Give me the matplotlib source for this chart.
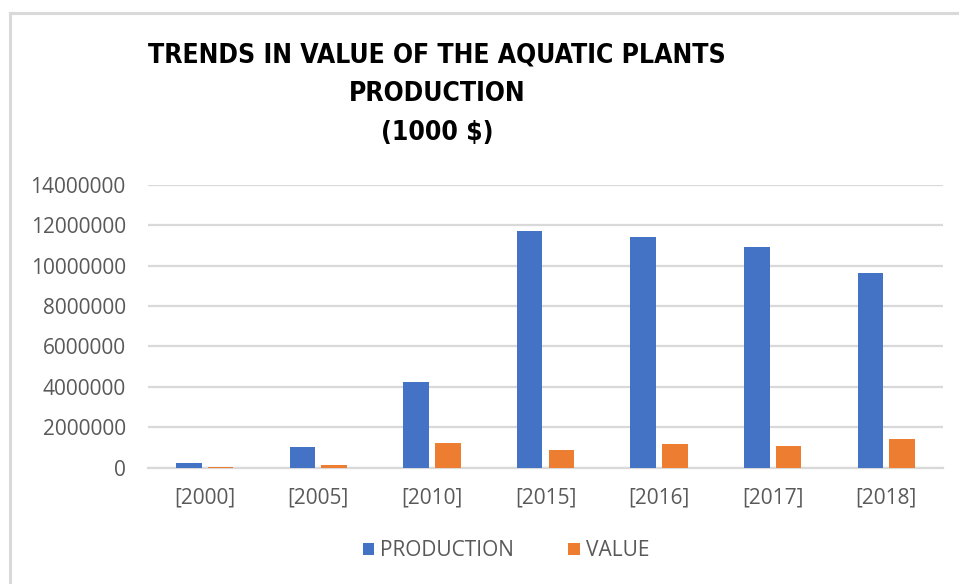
import matplotlib
matplotlib.use("Agg")
import matplotlib.pyplot as plt
import numpy as np
from matplotlib.lines import Line2D

# Data
years = ["[2000]", "[2005]", "[2010]", "[2015]", "[2016]", "[2017]", "[2018]"]
production = [220000, 1000000, 4240000, 11730000, 11420000, 10910000, 9620000]
value = [15000, 120000, 1240000, 875000, 1170000, 1060000, 1410000]
yticks = [0, 2000000, 4000000, 6000000, 8000000, 10000000, 12000000, 14000000]

BLUE = "#4472C4"
ORANGE = "#ED7D31"
GRID = "#D9D9D9"
TXT = "#595959"

W, H = 959, 584
fig = plt.figure(figsize=(W / 100, H / 100), dpi=100)
fig.patch.set_facecolor("white")

# chart frame (top and left edges visible)
fig.add_artist(Line2D([10 / W, 1.0], [1 - 13 / H, 1 - 13 / H], color="#D9D9D9", lw=2.2,
                      transform=fig.transFigure))
fig.add_artist(Line2D([10 / W, 10 / W], [0.0, 1 - 13 / H], color="#D9D9D9", lw=2.2,
                      transform=fig.transFigure))

ax_l, ax_r = 148 / W, 943 / W
ax_b, ax_t = 1 - 467.7 / H, 1 - 184.7 / H
ax = fig.add_axes([ax_l, ax_b, ax_r - ax_l, ax_t - ax_b])

x = np.arange(len(years))
bw = 0.225
off = 0.14
ax.bar(x - off, production, width=bw, color=BLUE, label="PRODUCTION", zorder=3)
ax.bar(x + off, value, width=bw, color=ORANGE, label="VALUE", zorder=3)

ax.set_xlim(-0.5, len(years) - 0.5)
ax.set_ylim(0, 14000000)
ax.set_yticks(yticks)
ax.set_yticklabels([str(v) for v in yticks])
ax.set_xticks(x)
ax.set_xticklabels(years)

ax.yaxis.grid(True, color=GRID, lw=1.6, zorder=0)
ax.set_axisbelow(True)
for s in ["top", "right", "left"]:
    ax.spines[s].set_visible(False)
ax.spines["bottom"].set_color(GRID)
ax.spines["bottom"].set_linewidth(1.6)
ax.tick_params(axis="both", length=0, colors=TXT)
ax.tick_params(axis="y", pad=16)
ax.tick_params(axis="x", pad=14)
for lab in ax.get_yticklabels() + ax.get_xticklabels():
    lab.set_fontfamily(["Open Sans", "DejaVu Sans"])
    lab.set_fontsize(15)
    lab.set_color(TXT)

# title
tfont = dict(family=["DejaVu Sans"], stretch="condensed", weight="bold", color="black",
             ha="center", va="center")
fig.text(437 / W, 1 - 55 / H, "TRENDS IN VALUE OF THE AQUATIC PLANTS", fontsize=19, **tfont)
fig.text(437 / W, 1 - 94 / H, "PRODUCTION", fontsize=19, **tfont)
fig.text(437 / W, 1 - 133 / H, "(1000 $)", fontsize=19, **tfont)

leg = fig.legend(loc="center", bbox_to_anchor=(506 / W, 1 - 551 / H), ncol=2, frameon=False,
                 handlelength=0.55, handleheight=0.55, handletextpad=0.3, columnspacing=2.6,
                 prop={"family": ["Open Sans", "DejaVu Sans"], "size": 15})
for t in leg.get_texts():
    t.set_color(TXT)

fig.savefig("out.png", dpi=100, facecolor="white")
